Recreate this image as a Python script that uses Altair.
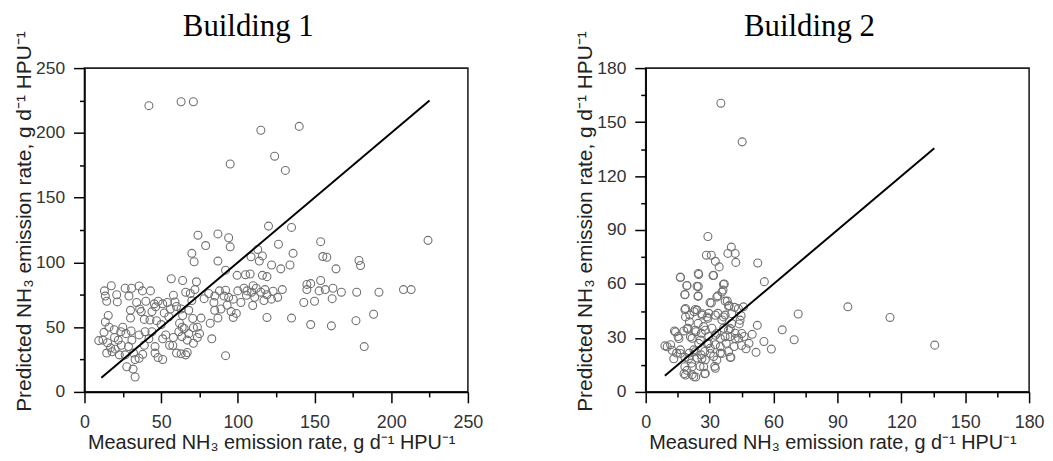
import altair as alt
import pandas as pd

# ---------------- Building 1 (measured, predicted) ----------------
b1_measured = [
    42, 63, 71, 115, 140, 124, 95, 131, 120, 135, 224, 74, 87, 94, 95, 79, 70, 71.5, 87, 154,
    126.5, 136, 155.4, 158, 113, 108.6, 116, 114, 122, 128, 134, 164, 179, 180, 99.5, 108, 116, 119, 92, 56.6,
    64, 73, 145, 147.5, 154, 157, 153, 162, 167.5, 161.5, 177.5, 192, 208, 213, 188.5, 177, 161, 147.5, 135, 119,
    150, 143, 145, 182.4, 92, 83, 82, 76,
    81, 84.4, 84.9, 87, 88, 91, 94, 92, 95.6, 97, 99, 100, 104, 105.6, 109, 110, 111, 109.7, 115, 117.7,
    117, 123, 121.9, 129, 105, 97, 93, 89,
    13, 13.6, 14.5, 17.5, 21, 21.4, 26.5, 29, 30.7, 35.6, 37.8, 34, 36, 37, 39, 43, 45.5, 46.4, 51, 54,
    52, 58, 59, 63, 64, 69, 70, 72, 66, 65, 63.5, 67, 70.6, 71, 73.6, 75, 71, 73.6, 66, 63,
    60, 55.5, 53, 51, 51, 48, 46, 46, 44, 42, 39, 38, 35.6, 33, 32, 33, 31.7, 27.6, 26.5, 28.7,
    30.9, 30.4, 30, 23.7, 25, 22, 19.6, 19.4, 17, 14.5, 12, 12.7, 13.6, 15.5, 9.3, 15, 18, 22.7, 35.6, 39.5,
    42.7, 57.6, 67, 63.7, 61.5,
    47, 50, 56, 60, 68, 44, 40, 48, 55, 62, 30, 27, 24, 20, 16, 58, 68, 78, 85, 102,
    106, 112, 119, 126,
]
b1_predicted = [
    221, 224, 224, 202, 205, 182, 176, 171, 128, 127, 117, 121, 122, 119, 112, 113, 107, 100.5, 101, 116,
    114, 107, 104.5, 104, 110, 104.3, 105, 101, 98, 95, 98, 95, 101.5, 97.6, 90, 91, 90, 89, 94, 87.4,
    86, 85, 83, 83.6, 86, 79, 78, 80, 77, 72, 77, 77, 79, 79, 60, 55, 51, 52, 57, 57.5,
    70, 69, 79, 35, 28, 41, 53, 57,
    76, 69, 63, 57, 78, 74, 73, 78.5, 62, 57.5, 60.6, 78, 80, 74.6, 77, 82, 73, 66.7, 77, 79,
    70.5, 77.7, 71.6, 79, 90.5, 71.6, 67, 64,
    78, 74, 70, 82, 75, 69.5, 80, 74, 80, 81.8, 78, 69, 64, 62, 56, 78, 68, 65.7, 68, 69,
    61, 74.6, 69.5, 64, 59, 76, 70.5, 79, 77, 49, 42.7, 40, 56.7, 49.6, 50, 45, 37.6, 42, 28.6, 29.4,
    30, 36, 44, 41, 25, 26.6, 30, 35, 46.5, 41, 36, 29, 26, 25, 30, 11.5, 17.6, 19.4, 28.6, 35,
    40, 47, 57, 46.5, 50, 40, 42, 48, 34, 30, 40, 46, 54, 59, 39.6, 38, 31, 28.6, 44, 46.5,
    55.5, 35.8, 30.4, 50, 46.5,
    55, 52, 64, 66, 63, 62, 70, 70, 58, 53, 63, 45, 36, 33, 50, 42, 45, 72, 74, 69,
    78, 80, 75, 73,
]
b1_line = [11, 225]

# ---------------- Building 2 (measured, predicted) ----------------
b2_measured = [
    35.3, 45.3, 29.2, 28.5, 30.8, 32.7, 34.5, 31.6, 24.7, 16.3, 19.3, 24.7, 36.9, 36.3, 33.8, 30.2, 24.6, 18.4, 38.6, 40.2,
    42, 42.3, 52.6, 55.7, 71.6, 94.9, 114.7, 135.7, 64.1, 69.7, 59, 55.5, 51.8, 52.4, 50, 46.2, 45.9, 44.8, 41.7, 38.3,
    39.2, 40.4, 43.9, 47.1, 48.5, 45, 41.5, 40, 38.9, 37.8, 35, 31.9, 32.4, 30.3, 28, 27.7, 23.5, 21.8, 18, 19.4,
    21.5, 26, 25.5, 24.1, 22.6, 20.5, 18.4, 16.3, 14.5, 13.2, 11.7, 9, 13.5, 15.2, 17.9, 19.9, 21.8, 23.6, 24.6, 24.1,
    22.7, 18.7, 20.7, 20.5, 26.4, 29.2, 29.6, 27.2, 26.1, 29.6, 31.1, 33.4, 33.9, 35.8, 37.3, 36.6, 35, 32.7, 28.8, 24.9,
    27.7, 38.9, 39.7, 42, 43.6,
    16.3, 24.9, 31.9, 19.4, 24.1, 18.4, 24.6, 36.5, 35.8, 33.4, 30.8, 37.3, 38.9, 18.4, 23.3, 18.7, 26.4, 28.8, 32.7, 36.5,
    40.4, 43.5, 44.3, 14, 10.1, 12.4, 15.6, 19.4, 21, 23.3, 25.7, 28, 29.5, 32.7, 35, 37.3, 39.7, 42, 45.1, 16.3,
    20.2, 23.3, 26.4, 30.3, 33.4, 35.8, 39.7, 18.4, 21.8, 27.2, 32.7, 18.7, 22.6, 28,
]
b2_predicted = [
    160.5, 139, 86.4, 76, 76, 72.6, 69.5, 64.7, 65.8, 63.6, 59, 58.6, 60, 56.6, 53.4, 49.7, 53.4, 54, 77, 80.5,
    77, 72, 71.7, 61.3, 43.3, 47.3, 41.4, 26, 34.5, 29, 23.8, 28, 22, 37, 32, 30.8, 47.3, 42.4, 47, 50.5,
    48, 38, 37.8, 24, 27, 25.8, 25.2, 19.3, 22.5, 27, 21.6, 19.7, 14.2, 24.3, 17.9, 10.1, 8.3, 9.6, 10.1, 12,
    16, 20.6, 14.2, 18.8, 23.4, 21.6, 19.3, 23.4, 21.6, 18.4, 26.2, 25.6, 33.9, 30.8, 33.9, 35.4, 29.8, 33.5, 38.1, 45.5,
    44.6, 46.4, 42.7, 39, 42.7, 40.9, 43.7, 36.3, 32.6, 30.8, 35.4, 32.6, 43.7, 40, 42.7, 35.4, 29.8, 26.2, 27, 27,
    22.5, 34.5, 30.8, 32.6, 29.8,
    63.8, 65.3, 64.8, 59.2, 58.7, 54.2, 53.1, 59.8, 55.5, 52.8, 49.4, 50.5, 47.6, 45.8, 45.8, 41.7, 43.5, 41.7, 42.6, 41.7,
    43.5, 46.3, 39.9, 33.4, 25.1, 23.2, 29.7, 35.2, 30.6, 34.3, 28.8, 34.3, 26.9, 31.5, 25.1, 30.6, 35.2, 29.7, 32.5, 21.4,
    18.6, 22.3, 18.6, 21.4, 17.7, 21.4, 19.2, 14, 14, 14, 13.1, 9.4, 8.5, 10.3,
]
b2_line = [9, 135.5]

x_title = "Measured NH\u2083 emission rate, g d\u207b\u00b9 HPU\u207b\u00b9"
y_title = "Predicted NH\u2083 emission rate, g d\u207b\u00b9 HPU\u207b\u00b9"

SANS = "Liberation Sans"
W, H = 386, 326


def make_axis(title, maxv, step, major, orient):
    vals = [i * step for i in range(int(round(maxv / step)) + 1)]
    is_x = orient == "bottom"
    extra = dict(titleX=W / 2 - 5) if is_x else dict(titleY=H / 2 - 9)
    return alt.Axis(
        title=title,
        orient=orient,
        values=vals,
        labelExpr=f"datum.value % {major} === 0 ? datum.label : ''",
        tickSize={"condition": {"test": f"datum.value % {major} === 0", "value": 11}, "value": 5},
        tickColor="black",
        tickWidth=1.5,
        domainColor="black",
        domainWidth=1.5,
        grid=False,
        labelFont=SANS,
        labelFontSize=18 if is_x else 17.5,
        labelColor="#333333",
        labelPadding=10.5 if is_x else 9,
        labelOverlap=False,
        labelFlush=False,
        titleFont=SANS,
        titleFontSize=20 if is_x else 21,
        titleFontWeight="normal",
        titleColor="#222222",
        titlePadding=1.5 if is_x else 1,
        **extra,
    )


def panel(mx, py, line, maxv, step, major, title):
    pts = pd.DataFrame({"m": mx, "p": py})
    ln = pd.DataFrame({"m": line, "p": line})
    xs = alt.Scale(domain=[0, maxv], nice=False, zero=False)
    ys = alt.Scale(domain=[0, maxv], nice=False, zero=False)
    xa = make_axis(x_title, maxv, step, major, "bottom")
    ya = make_axis(y_title, maxv, step, major, "left")
    points = alt.Chart(pts).mark_point(
        shape="circle", filled=False, color="#707070", size=64, strokeWidth=1.1, opacity=1
    ).encode(
        x=alt.X("m:Q", scale=xs, axis=xa),
        y=alt.Y("p:Q", scale=ys, axis=ya),
    )
    fit = alt.Chart(ln).mark_line(color="black", strokeWidth=2).encode(
        x=alt.X("m:Q", scale=xs, axis=xa),
        y=alt.Y("p:Q", scale=ys, axis=ya),
    )
    return alt.layer(points, fit).properties(
        width=W,
        height=H,
        title=alt.TitleParams(
            title, font="Liberation Serif", fontSize=31, fontWeight="normal",
            color="black", anchor="middle", frame="bounds", offset=-36, baseline="alphabetic",
        ),
    )


p1 = panel(b1_measured, b1_predicted, b1_line, 250, 25, 50, "Building 1")
p2 = panel(b2_measured, b2_predicted, b2_line, 180, 15, 30, "Building 2")

chart = alt.hconcat(p1, p2, spacing=91).properties(
    padding={"left": 5, "top": 0, "right": 0, "bottom": 0},
    background="white",
).configure_view(stroke="#222222", strokeWidth=1.6)

chart.save("out.html", embed_options={"renderer": "svg", "actions": False})
